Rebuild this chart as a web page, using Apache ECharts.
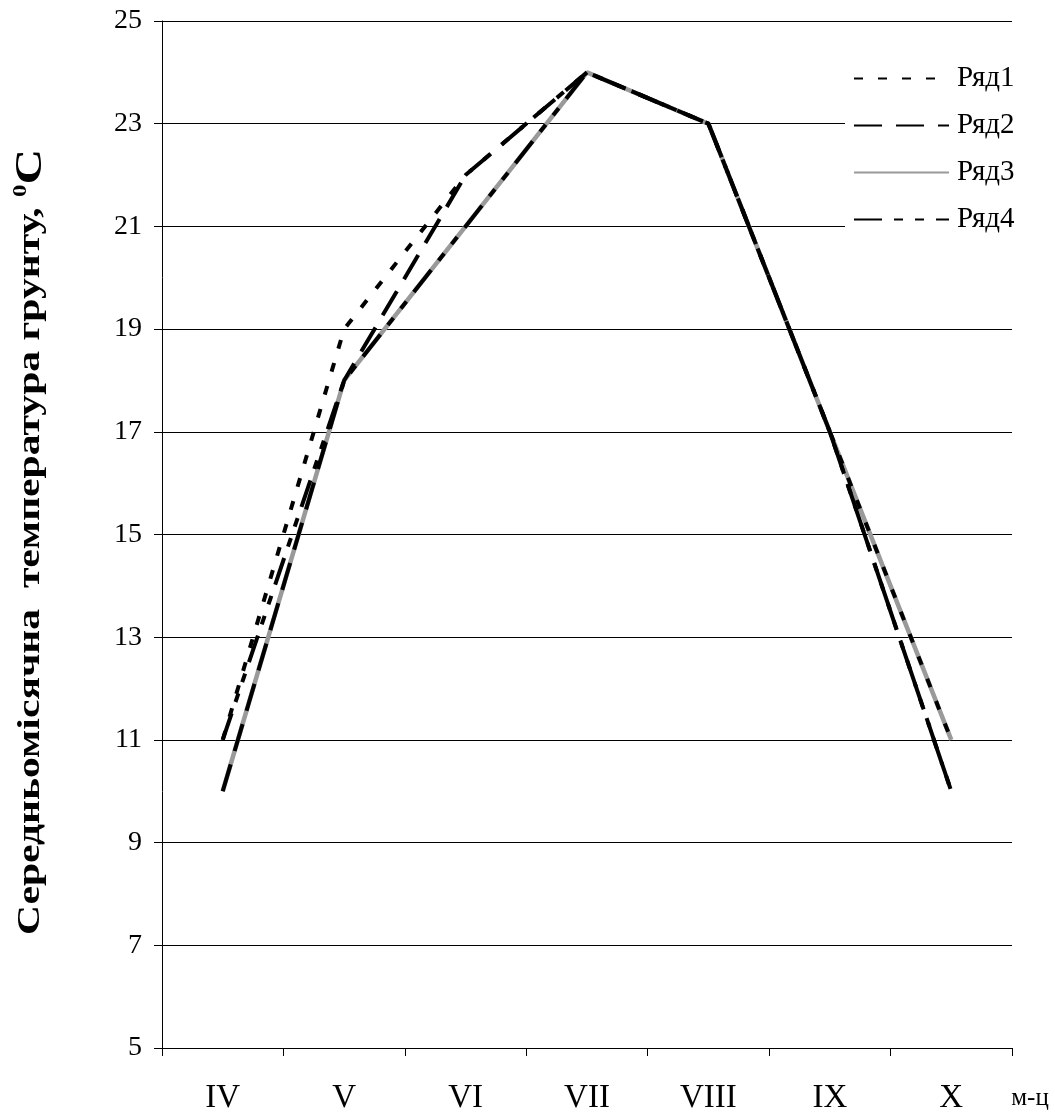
<!DOCTYPE html>
<html><head><meta charset="utf-8">
<script src="https://cdn.jsdelivr.net/npm/echarts@6/dist/echarts.min.js"></script>
<style>html,body{margin:0;padding:0;background:#fff}#c{width:1055px;height:1117px}</style>
</head><body><div id="c"></div>
<script>
const months = ['IV','V','VI','VII','VIII','IX','X'];
const seriesNames = ['Ряд1','Ряд2','Ряд3','Ряд4'];
const ryad1 = [11, 19, 22, 24, 23, 17, 11];
const ryad2 = [10, 18, 22, 24, 23, 17, 10];
const ryad3 = [10, 18, 21, 24, 23, 17, 11];
const ryad4 = [11, 18, 21, 24, 23, 17, 10];
const yTitle = 'Середньомісячна  температура грунту, ';
const xUnit = 'м-ц';

const FONT = "'Liberation Serif', 'Times New Roman', serif";
const chart = echarts.init(document.getElementById('c'), null, {renderer:'canvas'});

function blackLine(name, data, dash){
  return {name, type:'line', data, symbol:'none', z:3, animation:false,
    lineStyle:{color:'#000', width:4, type:dash, cap:'butt'}, itemStyle:{color:'#000', opacity:0}};
}

chart.setOption({
  backgroundColor:'#fff',
  animation:false,
  textStyle:{fontFamily:FONT, color:'#000'},
  grid:{left:162, right:43, top:21, bottom:69, containLabel:false},
  legend:{
    orient:'vertical', left:845, top:56, padding:[8,8,8,8],
    backgroundColor:'#fff', itemWidth:95, itemHeight:16, itemGap:18,
    itemStyle:{opacity:0},
    textStyle:{fontFamily:FONT, fontSize:29, color:'#000', padding:[0,0,0,3]},
    data:seriesNames
  },
  xAxis:{
    type:'category', data:months, boundaryGap:true,
    axisLine:{lineStyle:{color:'#000', width:1}},
    axisTick:{show:true, inside:false, length:8, lineStyle:{color:'#000'}},
    axisLabel:{fontFamily:FONT, fontSize:33, color:'#000', margin:34},
    splitLine:{show:false}
  },
  yAxis:{
    type:'value', min:5, max:25, interval:2,
    axisLine:{show:true, lineStyle:{color:'#000', width:1}},
    axisTick:{show:true, inside:false, length:8, lineStyle:{color:'#000'}},
    axisLabel:{fontFamily:FONT, fontSize:28, color:'#000', margin:20},
    splitLine:{show:true, lineStyle:{color:'#000', width:1}}
  },
  graphic:[
    {type:'text', x:31, y:542, rotation:Math.PI/2, scaleX:1.3, scaleY:1, z:10,
      style:{text:'{a|'+yTitle+'}{b|0}{c|C}', align:'center', verticalAlign:'middle',
        rich:{
          a:{fontFamily:FONT, fontSize:32, fontWeight:'bold', fill:'#000'},
          b:{fontFamily:FONT, fontSize:19, fontWeight:'bold', fill:'#000', verticalAlign:'top'},
          c:{fontFamily:FONT, fontSize:38, fontWeight:'bold', fill:'#000'}
        }}},
    {type:'text', x:1030, y:1098, z:10,
      style:{text:xUnit, fontFamily:FONT, fontSize:25, fill:'#000', align:'center', verticalAlign:'middle'}}
  ],
  series:[
    blackLine(seriesNames[0], ryad1, [9,15]),
    blackLine(seriesNames[1], ryad2, [28,14]),
    {name:seriesNames[2], type:'line', data:ryad3, symbol:'none', z:1, animation:false,
      lineStyle:{color:'#9a9a9a', width:4.5, type:'solid'}, itemStyle:{color:'#9a9a9a', opacity:0}},
    blackLine(seriesNames[3], ryad4, [28,12,9,12,9,12])
  ]
});
</script></body></html>
